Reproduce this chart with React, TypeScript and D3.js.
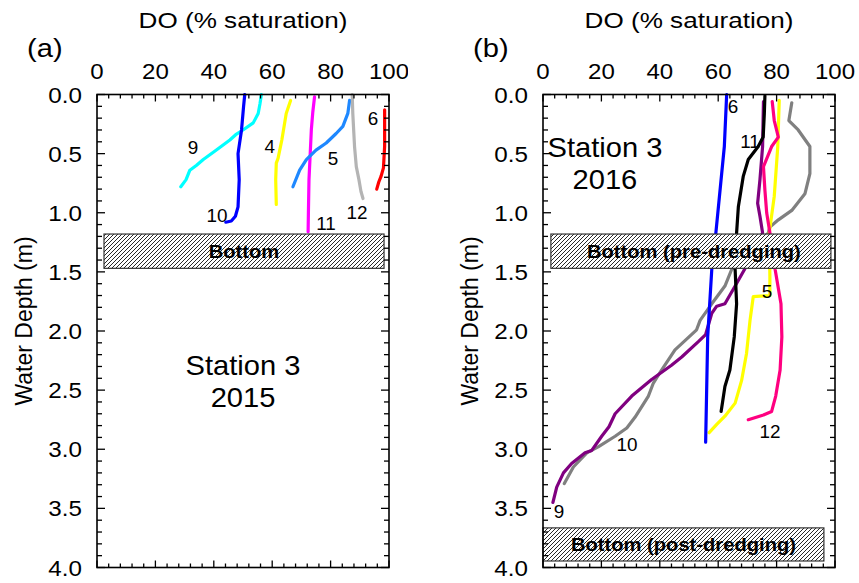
import React from "react";
import * as d3 from "d3";

type Pt = [number, number]; // [DO %, depth m]

// ---------- Panel (a) : Station 3, 2015 ----------
const a9: Pt[] = [[56.3,0],[55.8,0.08],[55.2,0.16],[53.5,0.24],[50,0.3],[47.5,0.34],[45.5,0.385],[42.5,0.44],[40.3,0.48],[36.4,0.55],[34,0.6],[31.8,0.64],[30.5,0.72],[28.7,0.78]];
const a10: Pt[] = [[50.6,0],[50.2,0.1],[49.5,0.3],[48.3,0.5],[48.7,0.72],[48.3,0.95],[47.4,1.03],[46,1.07],[44.1,1.08]];
const a4: Pt[] = [[66.3,0.05],[64.8,0.16],[63.3,0.385],[62,0.54],[61.4,0.58],[61.2,0.72],[61.4,0.93]];
const a11: Pt[] = [[74.5,0.02],[73.9,0.15],[73.4,0.3],[72.6,0.72],[72.4,1.0],[72.3,1.16]];
const a5: Pt[] = [[86.5,0.05],[85.9,0.16],[84.2,0.27],[81.9,0.33],[78.5,0.41],[75,0.47],[71.7,0.55],[69.4,0.64],[67.1,0.78]];
const a12: Pt[] = [[87.4,0.0],[87.6,0.16],[88.2,0.44],[88.8,0.61],[89.7,0.72],[90.4,0.82],[91.1,0.88]];
const a6: Pt[] = [[98.5,0.13],[98.5,0.44],[98.1,0.62],[97.3,0.69],[96.5,0.74],[95.8,0.8]];

// ---------- Panel (b) : Station 3, 2016 ----------
const b6: Pt[] = [[62.9,0],[62.1,0.44],[59.2,1.17],[57.8,1.48],[56.4,2.05],[55.7,2.94]];
const b11: Pt[] = [[76,0.01],[75.8,0.16],[75.4,0.36],[73.7,0.44],[70.3,0.55],[68.6,0.69],[66.9,0.95],[66.3,1.17],[65.8,1.48],[66.3,1.77],[65.5,2.05],[64,2.33],[62.3,2.47],[61.5,2.6],[61,2.68]];
const b9: Pt[] = [[75.5,0.06],[75.2,0.44],[74.3,0.72],[73.5,0.92],[74.3,1.03],[75.2,1.17],[69,1.48],[65.8,1.62],[62.3,1.77],[59.5,1.79],[57.8,1.85],[55.7,2.03],[53.2,2.09],[47.5,2.22],[44,2.29],[37.2,2.41],[30.4,2.55],[24.7,2.7],[22.6,2.81],[20.1,2.89],[16.7,3.01],[14.4,3.03],[9.8,3.12],[7,3.2],[4.7,3.32],[3.4,3.45]];
const b10: Pt[] = [[85.2,0.07],[84.2,0.22],[87.4,0.3],[91.4,0.44],[91.4,0.67],[89.7,0.84],[85.2,0.98],[80.6,1.06],[77.7,1.12],[77.2,1.17],[64.6,1.48],[62.3,1.62],[57.8,1.77],[53.8,1.91],[52.6,1.99],[45.2,2.16],[40.6,2.33],[37.8,2.44],[36.1,2.55],[31.5,2.73],[28.7,2.82],[24.7,2.89],[18.9,2.98],[15,3.03],[10.4,3.15],[7.3,3.29]];
const b5: Pt[] = [[80.9,0.05],[80.4,0.44],[79.2,0.86],[78.1,1.06],[77.5,1.17],[77.7,1.54],[77.7,1.7],[72,1.71],[70.9,1.91],[69.7,2.19],[68,2.42],[65.8,2.61],[62.3,2.72],[59.5,2.79],[56.9,2.86]];
const b12: Pt[] = [[78.5,0.06],[79.2,0.22],[80.6,0.36],[78.3,0.44],[75.5,0.61],[76,0.81],[76.6,1.0],[77.7,1.17],[79.5,1.48],[81.5,1.77],[81.8,2.05],[81.2,2.33],[79.7,2.55],[78.3,2.68],[75.5,2.71],[70.3,2.75]];

// tick labels
const xTickLabels = ["0", "20", "40", "60", "80", "100"];
const yTickLabels = ["0.0", "0.5", "1.0", "1.5", "2.0", "2.5", "3.0", "3.5", "4.0"];

// series lists
const seriesA = [
  { name: "9", data: a9, color: "#00ffff" },
  { name: "10", data: a10, color: "#0000ff" },
  { name: "4", data: a4, color: "#ffff00" },
  { name: "11", data: a11, color: "#ff00ff" },
  { name: "5", data: a5, color: "#1e88ff" },
  { name: "12", data: a12, color: "#b4b4b4" },
  { name: "6", data: a6, color: "#ff0000" },
];
const seriesB = [
  { name: "10", data: b10, color: "#808080" },
  { name: "9", data: b9, color: "#800080" },
  { name: "5", data: b5, color: "#ffff00" },
  { name: "12", data: b12, color: "#ff0080" },
  { name: "11", data: b11, color: "#000000" },
  { name: "6", data: b6, color: "#0000ff" },
];

// curve labels [text, DO, depth]
const labelsA: [string, number, number][] = [["9",32.9,0.45],["10",41.1,1.02],["4",59.2,0.44],["11",78.4,1.09],["5",80.8,0.54],["12",89,1.0],["6",94.5,0.2]];
const labelsB: [string, number, number][] = [["6",65.1,0.1],["11",70.9,0.4],["5",76.7,1.67],["12",77.7,2.85],["10",28.8,2.96],["9",5.5,3.53]];

// bottom boxes [x0, x1, d0, d1, text]
const boxesA: [number, number, number, number, string][] = [[2.4, 98.3, 1.18, 1.47, "Bottom"]];
const boxesB: [number, number, number, number, string][] = [[2.7, 98.6, 1.18, 1.47, "Bottom (pre-dredging)"], [0, 96.2, 3.665, 3.945, "Bottom (post-dredging)"]];

const FONT = "'Liberation Sans', Arial, Helvetica, sans-serif";
const Y0 = 94.5, Y1 = 567.5;

function T({ x, y, size, children, anchor = "middle", sx = 1.1, weight = "normal", baseline }: any) {
  return (
    <text
      transform={`translate(${x},${y}) scale(${sx},1)`}
      fontSize={size}
      fontFamily={FONT}
      fontWeight={weight}
      textAnchor={anchor}
      dominantBaseline={baseline}
      fill="#000"
    >
      {children}
    </text>
  );
}

function Panel({ left, right, tag, series, labels, boxes, station, stationX, stationY, clipId }: any) {
  const x = d3.scaleLinear().domain([0, 100]).range([left, right]);
  const y = d3.scaleLinear().domain([0, 4]).range([Y0, Y1]);
  const line = d3.line<Pt>().x((d) => x(d[0])).y((d) => y(d[1]));
  const xMinor = d3.range(0, 100.01, 4);
  const yMinor = d3.range(0, 41).map((i) => i / 10);
  const ticks: JSX.Element[] = [];
  xMinor.forEach((v, i) => {
    const major = Math.abs(v % 20) < 1e-6;
    const L = major ? 7 : 4;
    ticks.push(<line key={"xt" + i} x1={x(v)} x2={x(v)} y1={Y0} y2={Y0 + L} />);
    ticks.push(<line key={"xb" + i} x1={x(v)} x2={x(v)} y1={Y1} y2={Y1 - L} />);
  });
  yMinor.forEach((v, i) => {
    const major = i % 5 === 0;
    const L = major ? 8 : 5;
    ticks.push(<line key={"yl" + i} x1={left} x2={left + L} y1={y(v)} y2={y(v)} />);
    ticks.push(<line key={"yr" + i} x1={right} x2={right - L} y1={y(v)} y2={y(v)} />);
  });
  const mid = (left + right) / 2;
  return (
    <g clipPath={clipId ? `url(#${clipId})` : undefined}>
      {/* titles */}
      <T x={mid} y={28} size={22.5} sx={1.16}>DO (% saturation)</T>
      <T x={left - 70} y={57} size={26} anchor="start" sx={1.12}>{tag}</T>
      <text
        transform={`translate(${left - 65},321) rotate(-90)`}
        fontSize={23}
        fontFamily={FONT}
        textAnchor="middle"
      >
        Water Depth (m)
      </text>
      {/* x tick labels */}
      {xTickLabels.map((t, i) => (
        <T key={"xl" + i} x={x(i * 20)} y={79} size={21.5} sx={1.12}>{t}</T>
      ))}
      {/* y tick labels */}
      {yTickLabels.map((t, i) => (
        <T key={"yl" + i} x={left - 15} y={y(i * 0.5) + 8} size={22} anchor="end" sx={1.1}>{t}</T>
      ))}
      {/* curves */}
      {series.map((s: any) => (
        <path key={s.name} d={line(s.data) || ""} fill="none" stroke={s.color} strokeWidth={3.2} strokeLinejoin="round" strokeLinecap="round" />
      ))}
      {/* bottom boxes */}
      {boxes.map((b: any, i: number) => (
        <g key={"bx" + i}>
          <rect x={x(b[0])} y={y(b[2])} width={x(b[1]) - x(b[0])} height={y(b[3]) - y(b[2])} fill="#fff" />
          <rect x={x(b[0])} y={y(b[2])} width={x(b[1]) - x(b[0])} height={y(b[3]) - y(b[2])} fill="url(#hatch)" stroke="#333" strokeWidth={1.2} />
          <T x={(x(b[0]) + x(b[1])) / 2 + (i === 0 && boxes.length > 1 ? 3 : 0)} y={(y(b[2]) + y(b[3])) / 2 + 6.5} size={18} weight="bold" sx={1.12}>{b[4]}</T>
        </g>
      ))}
      {/* curve labels */}
      {labels.map((l: any, i: number) => (
        <T key={"cl" + i} x={x(l[1])} y={y(l[2]) + 6.5} size={18} sx={1.05}>{l[0]}</T>
      ))}
      {/* station text */}
      <T x={x(stationX)} y={y(stationY)} size={28} sx={1.04}>{station[0]}</T>
      <T x={x(stationX)} y={y(stationY) + 32} size={28} sx={1.04}>{station[1]}</T>
      {/* frame and ticks */}
      <g stroke="#000" strokeWidth={1.3}>{ticks}</g>
      <rect x={left} y={Y0} width={right - left} height={Y1 - Y0} fill="none" stroke="#000" strokeWidth={1.6} />
    </g>
  );
}

export default function App() {
  return (
    <svg width={859} height={583} style={{ position: "absolute", left: 0, top: 0, background: "#fff" }}>
      <defs>
        <pattern id="hatch" patternUnits="userSpaceOnUse" width={4} height={4}>
          <path d="M-1,1 L1,-1 M0,4 L4,0 M3,5 L5,3" stroke="#111" strokeWidth={0.9} fill="none" />
        </pattern>
        <clipPath id="clipA">
          <rect x={0} y={0} width={408} height={583} />
        </clipPath>
      </defs>
      <rect x={0} y={0} width={859} height={583} fill="#fff" />
      <Panel left={97} right={389} tag="(a)" series={seriesA} labels={labelsA} boxes={boxesA} station={["Station 3", "2015"]} stationX={50} stationY={2.37} clipId="clipA" />
      <Panel left={543} right={835} tag="(b)" series={seriesB} labels={labelsB} boxes={boxesB} station={["Station 3", "2016"]} stationX={21.2} stationY={0.53} />
    </svg>
  );
}
